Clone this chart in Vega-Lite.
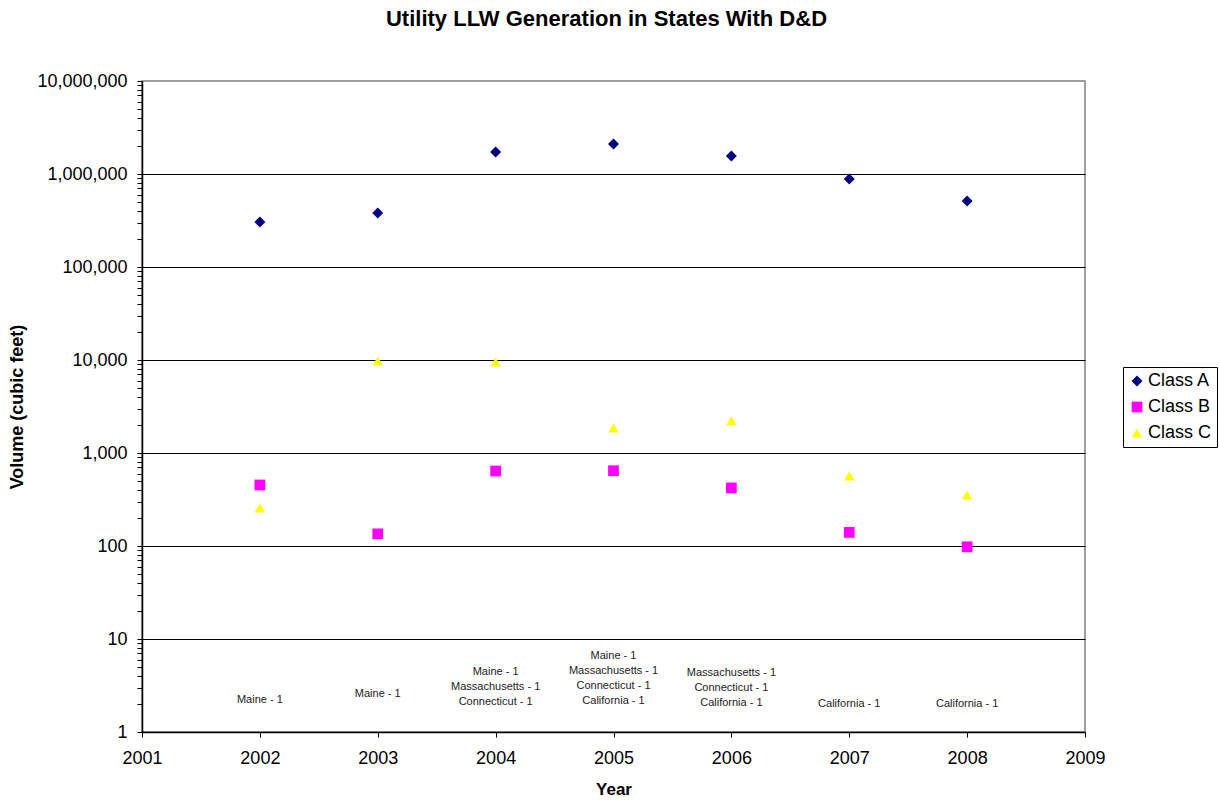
{
  "$schema": "https://vega.github.io/schema/vega-lite/v6.json",
  "width": 943,
  "height": 651,
  "autosize": {"type": "none"},
  "padding": {"left": 142, "top": 81, "right": 134, "bottom": 70},
  "background": "white",
  "config": {
    "font": "Liberation Sans",
    "view": {"stroke": "#808080", "strokeWidth": 1.5},
    "axis": {"labelFont": "Liberation Sans", "titleFont": "Liberation Sans", "labelColor": "#000", "titleColor": "#000", "labelFontWeight": "normal"}
  },
  "title": {
    "text": "Utility LLW Generation in States With D&D",
    "fontSize": 22,
    "fontWeight": "bold",
    "color": "#000",
    "anchor": "middle",
    "dx": -7,
    "offset": 41
  },
  "layer": [
    {
      "data": {
        "values": [
          {"year": 2002, "series": "Class A", "value": 305000},
          {"year": 2003, "series": "Class A", "value": 381000},
          {"year": 2004, "series": "Class A", "value": 1725000},
          {"year": 2005, "series": "Class A", "value": 2100000},
          {"year": 2006, "series": "Class A", "value": 1560000},
          {"year": 2007, "series": "Class A", "value": 884000},
          {"year": 2008, "series": "Class A", "value": 513000},
          {"year": 2002, "series": "Class B", "value": 453},
          {"year": 2003, "series": "Class B", "value": 135},
          {"year": 2004, "series": "Class B", "value": 640},
          {"year": 2005, "series": "Class B", "value": 645},
          {"year": 2006, "series": "Class B", "value": 421},
          {"year": 2007, "series": "Class B", "value": 140},
          {"year": 2008, "series": "Class B", "value": 98},
          {"year": 2002, "series": "Class C", "value": 256},
          {"year": 2003, "series": "Class C", "value": 9750},
          {"year": 2004, "series": "Class C", "value": 9500},
          {"year": 2005, "series": "Class C", "value": 1860},
          {"year": 2006, "series": "Class C", "value": 2210},
          {"year": 2007, "series": "Class C", "value": 566},
          {"year": 2008, "series": "Class C", "value": 353}
        ]
      },
      "mark": {"type": "point", "filled": true, "opacity": 1},
      "encoding": {
        "x": {
          "field": "year", "type": "quantitative",
          "scale": {"domain": [2001, 2009], "nice": false, "zero": false},
          "axis": {
            "values": [2001, 2002, 2003, 2004, 2005, 2006, 2007, 2008, 2009],
            "format": "d",
            "grid": false,
            "labelFlush": false,
            "domainColor": "#000", "domainWidth": 1.5,
            "tickColor": "#000", "tickSize": 5,
            "labelFontSize": 18, "labelPadding": 12,
            "title": "Year", "titleFontSize": 17, "titleFontWeight": "bold", "titlePadding": 14
          }
        },
        "y": {
          "field": "value", "type": "quantitative",
          "scale": {"type": "log", "domain": [1, 10000000], "nice": false},
          "axis": {
            "values": [1,2,3,4,5,6,7,8,9,10,20,30,40,50,60,70,80,90,100,200,300,400,500,600,700,800,900,1000,2000,3000,4000,5000,6000,7000,8000,9000,10000,20000,30000,40000,50000,60000,70000,80000,90000,100000,200000,300000,400000,500000,600000,700000,800000,900000,1000000,2000000,3000000,4000000,5000000,6000000,7000000,8000000,9000000,10000000],
            "labelExpr": "indexof([1,10,100,1000,10000,100000,1000000,10000000], datum.value) >= 0 ? format(datum.value, ',') : ''",
            "labelOverlap": false,
            "labelFlush": false,
            "labelFontSize": 18, "labelPadding": 10,
            "grid": true,
            "gridColor": "#000",
            "gridWidth": 1,
            "gridOpacity": {"condition": {"test": "indexof([10,100,1000,10000,100000,1000000], datum.value) >= 0", "value": 1}, "value": 0},
            "domainColor": "#000", "domainWidth": 1.5,
            "tickColor": "#000", "tickSize": 5,
            "title": "Volume (cubic feet)", "titleFontSize": 18, "titleFontWeight": "bold", "titlePadding": 10
          }
        },
        "color": {
          "field": "series", "type": "nominal",
          "scale": {"domain": ["Class A", "Class B", "Class C"], "range": ["#000080", "#FF00FF", "#FFFF00"]},
          "legend": {
            "title": null,
            "orient": "none",
            "legendX": 981,
            "legendY": 286,
            "strokeColor": "#000",
            "fillColor": "#fff",
            "padding": 5,
            "labelFontSize": 18,
            "labelColor": "#000",
            "labelFont": "Liberation Sans",
            "rowPadding": 8,
            "symbolStrokeWidth": 0,
            "labelOffset": 2
          }
        },
        "shape": {
          "field": "series", "type": "nominal",
          "scale": {"domain": ["Class A", "Class B", "Class C"], "range": ["diamond", "square", "triangle-up"]}
        },
        "size": {
          "field": "series", "type": "nominal",
          "scale": {"domain": ["Class A", "Class B", "Class C"], "range": [121, 110, 170]}
        }
      }
    },
    {
      "data": {
        "values": [
          {"year": 2002, "value": 2.2, "label": "Maine - 1"},
          {"year": 2003, "value": 2.55, "label": "Maine - 1"},
          {"year": 2004, "value": 4.42, "label": "Maine - 1\nMassachusetts - 1\nConnecticut - 1"},
          {"year": 2005, "value": 6.56, "label": "Maine - 1\nMassachusetts - 1\nConnecticut - 1\nCalifornia - 1"},
          {"year": 2006, "value": 4.31, "label": "Massachusetts - 1\nConnecticut - 1\nCalifornia - 1"},
          {"year": 2007, "value": 2.0, "label": "California - 1"},
          {"year": 2008, "value": 2.0, "label": "California - 1"}
        ]
      },
      "mark": {"type": "text", "fontSize": 11, "lineHeight": 15, "lineBreak": "\n", "align": "center", "baseline": "middle", "color": "#222"},
      "encoding": {
        "x": {"field": "year", "type": "quantitative"},
        "y": {"field": "value", "type": "quantitative"},
        "text": {"field": "label", "type": "nominal"}
      }
    }
  ]
}
